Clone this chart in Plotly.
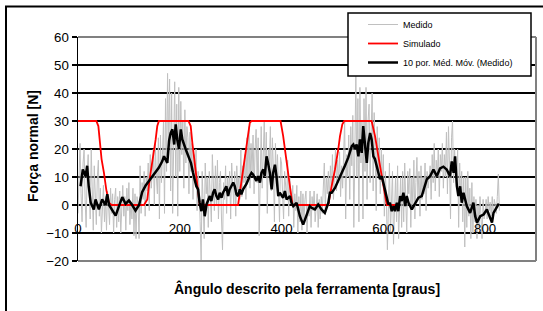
import plotly.graph_objects as go

# ---------------- data ----------------
measured_step = 2  # degrees between measured samples
measured_values = [
    -3, 10, 22, 4, -6, 15, 20, 2, -8, 12, 18, 6, -5, 20, 8, -9, 14, 3, -7, 10,
    16, -4, 6, -10, 2, 7, -6, 3, -9, 5, 0, -7, 6, -3, 4, -10, 2, 6, -8, 3,
    -6, 5, -10, 2, 7, -4, 3, -9, 6, -2, 8, -7, 1, -5, 6, -11, 4, -12, 3, 0,
    -12, 14, -3, 8, 2, 12, -4, 10, 5, 15, -2, 18, 6, 12, 20, 0, 22, 10, 4, 24,
    -5, 25, 8, 18, 30, -3, 38, 12, 47, 20, 45, 5, 40, -3, 30, 44, 10, 36, -4, 42,
    12, 37, 18, 30, 6, 34, 15, 28, 24, 4, 26, 12, 22, 2, 18, 8, 20, -2, 12, 6,
    -6, -20, 12, 2, -12, 15, 4, 10, -8, 12, 3, -6, 18, 6, -2, 14, 0, 16, -5, 8,
    12, -5, -16, 8, 2, 14, -3, 10, 4, 12, -5, 15, 6, 0, 12, -4, 14, 5, 10, 2,
    20, 3, 14, 8, 18, 2, 24, 10, 28, 6, 22, 12, 25, 4, 20, 27, 8, 24, -11, 16,
    28, 6, 22, 30, 10, 26, -3, 20, 14, 28, 5, 24, 12, -6, 22, 8, 18, 2, -6, 17,
    15, 4, -5, 12, 8, 2, 16, -4, 10, 6, 0, 7, -8, 4, -2, 7, -10, 3, -6, 5,
    -9, 4, -6, 2, 5, -10, 0, -4, 5, -8, 3, -2, 5, -6, 1, 4, -8, 2, -5, 3,
    -3, 8, 15, -2, 10, 4, 12, 0, 14, 6, 18, 2, 12, 20, 5, 16, 8, 19, 3, 14,
    6, 22, 30, -5, 18, 10, 25, 2, 28, 14, 32, -8, 20, 46, 10, 38, -6, 42, 15, 30,
    -5, 38, 12, 42, 2, 30, 36, 8, 26, 40, 5, 33, 18, -2, 28, 10, 24, 4, 20, 8,
    18, -4, 12, 2, -16, 8, 15, -10, 6, 12, -14, 4, 10, -6, 14, -12, 2, 10, -8, 12,
    -6, 15, 2, -10, 12, 4, 13, -8, 10, 0, 16, -5, 8, 17, 3, 12, -4, 14, 2, 10,
    4, 15, -2, 12, 6, 10, 14, 2, 18, 8, 22, 5, 16, 10, 20, 3, 18, 12, 22, 6,
    18, 10, 26, 4, 28, 15, -5, 24, 30, 8, 20, 12, 6, 20, -8, 15, 2, 12, -6, 10,
    -15, 10, -8, 12, -4, 6, -12, 8, -10, 3, -6, 2, -12, 0, -8, 3, -4, -12, 2, -5,
    -3, 2, -5, 3, -2, 1, -4, 3, -5, 2, 0, -3, 3, 11, -2,
]
measured_angle = [i * measured_step for i in range(len(measured_values))]

sim_points = [
    (0, 30), (36, 30), (40, 28.2), (42.3, 23.4), (46.3, 16.4), (51, 11.5), (55.5, 5.6),
    (60.7, 0.8), (66, 0), (129.6, 0), (136.2, 2), (140.8, 9.2), (147.3, 16.4),
    (152.6, 23.4), (155.8, 28.2), (159, 30), (217, 30), (221.5, 28.2), (224.7, 22.2),
    (229.3, 15), (232.6, 9), (235.9, 4.4), (239.2, 0), (314.6, 0), (318, 4.4),
    (324.5, 12.7), (331, 22.2), (334.3, 25.7), (337.6, 29.3), (341, 30), (398, 30),
    (403.2, 24.6), (409.8, 15), (416.4, 6.7), (421.6, 0), (491.8, 0), (498.4, 6.7),
    (505, 12.7), (511.5, 20), (514.8, 24.6), (519.4, 28.8), (523.3, 30), (577, 30),
    (583.7, 24.6), (590.3, 17.4), (596.8, 10.3), (603.4, 2), (606.7, 0), (625, 0),
]
sim_angle = [p[0] for p in sim_points]
sim_value = [p[1] for p in sim_points]

ma_points = [
    (5, 6.7), (9.5, 12.7), (15, 10.3), (18, 14), (21, 6.7), (25, 0.8), (31, -1.6),
    (34.5, 2), (41, -1.6), (47.5, 2), (54, 0), (57.5, 3.9), (61, 0), (67, -2),
    (74, -3.8), (80, -0.7), (87, 2.8), (93.5, 0.4), (100, 1.6), (106.5, 0), (113, -2),
    (120, 0), (126, 4.6), (133, 7), (139, 8.4), (146, 10.3), (152.5, 11.5), (159, 13.4),
    (165.5, 15.6), (169, 17.4), (175.5, 15), (179, 23), (182, 25.7), (185.5, 27),
    (189, 21.6), (192, 28.8), (195, 23.4), (198.5, 20), (202, 27), (205, 23.4),
    (211.5, 20), (218, 16.4), (222, 15), (226, 11.5), (229, 9.7), (232.5, 6.7),
    (236, 5.6), (239, 0.8), (242.5, -2.2), (245.5, 2), (249, -4), (252.5, 0.2),
    (259, 3.2), (262, 1.4), (265.5, 4.4), (268.5, 5.6), (272, 3.2), (275.5, 2),
    (278.5, 4.4), (282, 2.6), (285, 4.4), (291.5, 6.7), (295, 3.2), (298, 5.6),
    (305, 8), (308, 6.7), (311.5, 3.8), (314.5, 3.2), (318, 5.6), (321, 3.8),
    (324.5, 5.6), (331, 7.5), (337.5, 10.3), (341, 11.5), (344, 10.9), (350.5, 8.6),
    (354, 10.3), (357.5, 8), (360.5, 11.5), (364, 12.7), (367, 10.3), (370.5, 17.4),
    (373.5, 15), (377, 11.5), (380.5, 5.6), (383.5, 11.5), (387, 14.4), (390, 10.3),
    (393.5, 3.2), (396.5, 4.4), (403, 2.6), (406.5, 5), (410, 2), (416.5, 3.2),
    (419.5, 0.8), (423, -0.4), (429.5, 0.8), (436, -4), (442.5, -7), (449, -4),
    (455.5, -0.4), (459, -1), (465.5, -1.6), (472, 0.2), (478.5, -1.6), (485, -2.8),
    (492, 0.8), (495, 4.4), (498.5, 4.4), (505, 6.1), (511.5, 8.6), (518, 10.9),
    (524.5, 14), (531, 16.9), (534.5, 19.2), (538, 21), (541, 21.6), (544.5, 20),
    (547.5, 21.6), (551, 17.4), (554, 23.4), (557.5, 18.6), (560.5, 28.2), (564, 21.6),
    (567.5, 15), (570.5, 22.2), (574, 25.7), (577, 23.4), (580.5, 17.4), (583.5, 16.4),
    (587, 14), (590.5, 11.5), (593.5, 9.2), (597, 10.3), (600, 8), (603.5, 4.4),
    (606.5, 2.6), (610, 0.2), (613, 0.8), (616.5, -2.2), (620, -0.4), (623, -2.2),
    (626.5, 0.8), (629.5, -2.2), (633, 3.2), (636, 1.4), (639.5, 4.4), (643, -0.4),
    (646, 3.2), (649.5, 0.8), (656, -1.6), (662.5, 0.8), (669, 2.6), (675.5, 3.2),
    (679, 5.6), (685.5, 9.2), (692, 10.3), (698.5, 12.7), (705, 10.3), (711.5, 13.1),
    (718, 13.7), (724.5, 12.7), (731, 10.3), (734.5, 15.6), (738, 11.5), (741, 17.4),
    (744.5, 6.7), (747.5, 3.2), (751, 6.7), (754, 0.8), (757.5, 4.4), (764, -0.4),
    (770.5, -2.8), (777, 0.8), (780.5, -4), (784, -6.3), (790.5, -4), (797, -3.4),
    (803.5, -1.6), (810, -5.2), (813.5, -6.3), (816.5, -2.8), (823, -0.4), (827, 0.5),
]
ma_angle = [p[0] for p in ma_points]
ma_value = [p[1] for p in ma_points]

series_names = ["Medido", "Simulado", "10 por. Méd. Móv. (Medido)"]
x_title = "Ângulo descrito pela ferramenta [graus]"
y_title = "Força normal [N]"

FONT = "Liberation Sans, Arial, sans-serif"

# ---------------- figure ----------------
fig = go.Figure()
fig.add_trace(go.Scatter(x=measured_angle, y=measured_values, mode="lines",
                         name=series_names[0], line=dict(color="#c0c0c0", width=1)))
fig.add_trace(go.Scatter(x=sim_angle, y=sim_value, mode="lines",
                         name=series_names[1], line=dict(color="#ff0000", width=1.8)))
fig.add_trace(go.Scatter(x=ma_angle, y=ma_value, mode="lines",
                         name=series_names[2], line=dict(color="#000000", width=2.5)))

L, R, T, B = 78, 7, 37, 50
W, H = 543, 311
pw, ph = W - L - R, H - T - B


def px_x(x):
    return (x - L) / pw


def px_y(y):
    return (H - B - y) / ph


fig.update_layout(
    width=W, height=H, autosize=False,
    margin=dict(l=L, r=R, t=T, b=B, pad=0),
    paper_bgcolor="white", plot_bgcolor="white",
    font=dict(family=FONT, color="black", size=13.3),
    showlegend=True,
    hovermode=False,
    legend=dict(x=px_x(363), y=px_y(10), xanchor="left", yanchor="top",
                bgcolor="rgba(0,0,0,0)", borderwidth=0,
                font=dict(size=9, family=FONT), tracegroupgap=0),
    xaxis=dict(range=[0, 900], tick0=0, dtick=200, showgrid=False, zeroline=False,
               showline=False, ticks="", anchor="free", position=px_y(219),
               tickfont=dict(size=13.3)),
    yaxis=dict(range=[-20, 60], tick0=-20, dtick=10, showgrid=True, gridcolor="black",
               gridwidth=1.4, zeroline=False, showline=True, linecolor="black",
               linewidth=1.5, ticks="outside", ticklen=5, tickcolor="black",
               tickwidth=1.2, tickfont=dict(size=13.3)),
    annotations=[
        dict(text=f"<b>{y_title}</b>", xref="paper", yref="paper",
             x=px_x(33), y=px_y(146), textangle=-90, showarrow=False,
             font=dict(size=14, family=FONT), xanchor="center", yanchor="middle"),
        dict(text=f"<b>{x_title}</b>", xref="paper", yref="paper",
             x=0.5, y=px_y(288), showarrow=False,
             font=dict(size=14, family=FONT), xanchor="center", yanchor="middle"),
    ],
    shapes=[
        # plot-area border (grey) top, right, bottom
        dict(type="line", xref="paper", yref="paper", x0=0, x1=1, y0=1, y1=1,
             line=dict(color="#808080", width=2), layer="above"),
        dict(type="line", xref="paper", yref="paper", x0=1, x1=1, y0=0, y1=1,
             line=dict(color="#808080", width=2), layer="above"),
        dict(type="line", xref="paper", yref="paper", x0=0, x1=1, y0=0, y1=0,
             line=dict(color="#808080", width=2), layer="above"),
        # legend box
        dict(type="rect", xref="paper", yref="paper", x0=px_x(348), x1=px_x(531),
             y0=px_y(76), y1=px_y(13), fillcolor="white",
             line=dict(color="black", width=1.5), layer="above"),
        # outer chart frame
        dict(type="rect", xref="paper", yref="paper", x0=px_x(6), x1=px_x(560),
             y0=px_y(330), y1=px_y(6.5), fillcolor="rgba(0,0,0,0)",
             line=dict(color="black", width=2), layer="above"),
    ],
)

fig.write_html("out.html", config={"displayModeBar": False, "staticPlot": True},
               post_script="document.body.style.margin='0px';")
